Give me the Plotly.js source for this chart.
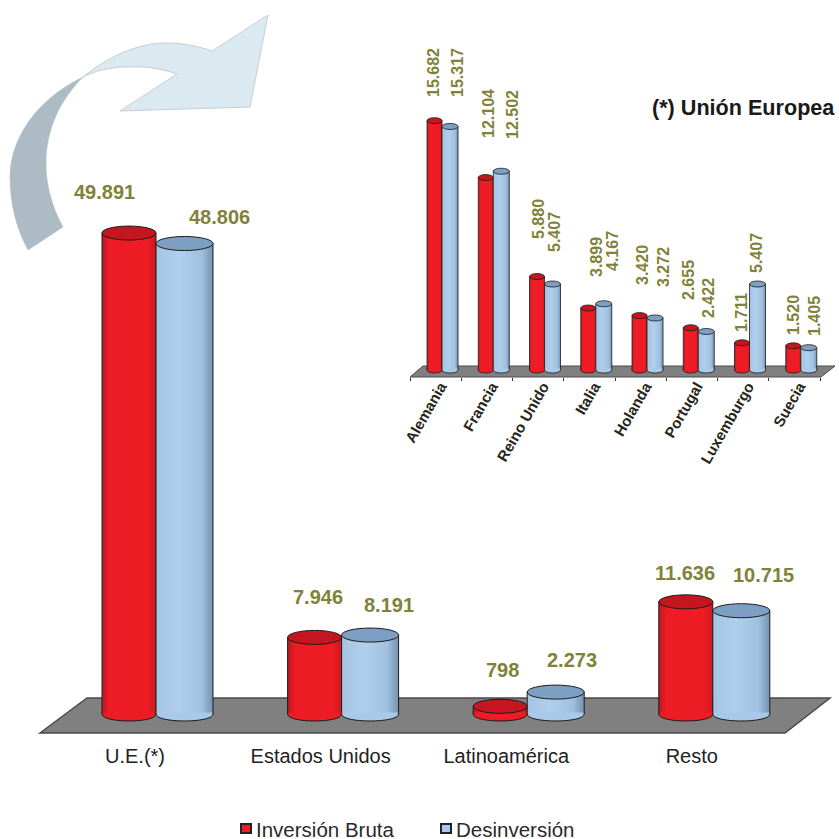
<!DOCTYPE html>
<html><head><meta charset="utf-8">
<script src="https://cdn.plot.ly/plotly-3.0.1.min.js"></script>
<style>html,body{margin:0;padding:0;background:#fff}</style></head>
<body><div id="chart" style="width:839px;height:839px"></div>
<script>
// ---- data ----
const regiones = ['U.E.(*)', 'Estados Unidos', 'Latinoamérica', 'Resto'];
const regionInversion = [49891, 7946, 798, 11636];
const regionDesinversion = [48806, 8191, 2273, 10715];
const paises = ['Alemania', 'Francia', 'Reino Unido', 'Italia', 'Holanda', 'Portugal', 'Luxemburgo', 'Suecia'];
const paisInversion = [15682, 12104, 5880, 3899, 3420, 2655, 1711, 1520];
const paisDesinversion = [15317, 12502, 5407, 4167, 3272, 2422, 5407, 1405];
const serieA = 'Inversión Bruta', serieB = 'Desinversión';

// ---- styling ----
const RED = '#ee1c25', BLUE = '#a8c9e8', RED_TOP = '#c5161f', BLUE_TOP = '#7d9fc3';
const EDGE = '#1c1c1c', OLIVE = '#7f8238';
const FONT = 'Liberation Sans, Arial, sans-serif';
const W = 839, H = 839;
const px = x => x / W, py = y => 1 - y / H;

// pixel geometry of the two plots
const main = {l: 42.2, r: 784.6, top: 40, bottom: 733, base: 714, scale: 0.00964, step: 185.6,
  offA: -33 / 185.6, wA: 54 / 185.6, offB: 21 / 185.6, wB: 57 / 185.6, ry: 7, lw: 1};
const inset = {l: 410, r: 820, top: 40, bottom: 377, base: 370, scale: 0.0159, step: 51.25,
  offA: -8.6 / 51.25, wA: 15 / 51.25, offB: 6.4 / 51.25, wB: 16 / 51.25, ry: 3, lw: 0.8};
const yRange = g => [(g.base - g.bottom) / g.scale, (g.base - g.top) / g.scale];

const fmt = v => String(v).replace(/\B(?=(\d{3})+$)/g, '.');

function barTrace(x, y, name, color, off, w, xa, ya, lw) {
  return {type: 'bar', x, y, name, xaxis: xa, yaxis: ya, offset: off, width: w, showlegend: false,
    marker: {color, line: {color: EDGE, width: lw}}, hoverinfo: 'x+y'};
}
const data = [
  barTrace(regiones, regionInversion, serieA, RED, main.offA, main.wA, 'x', 'y', main.lw),
  barTrace(regiones, regionDesinversion, serieB, BLUE, main.offB, main.wB, 'x', 'y', main.lw),
  barTrace(paises, paisInversion, serieA, RED, inset.offA, inset.wA, 'x2', 'y2', inset.lw),
  barTrace(paises, paisDesinversion, serieB, BLUE, inset.offB, inset.wB, 'x2', 'y2', inset.lw)
];

// ---- decoration in pixel coordinates ----
const pathPx = segs => segs.map(s => typeof s === 'string' ? s : px(s[0]) + ',' + py(s[1])).join(' ');
const shapes = [];
const paperPath = (segs, fill, line, lw) => shapes.push({type: 'path', xref: 'paper', yref: 'paper', layer: 'below',
  path: pathPx(segs), fillcolor: fill, line: {color: line, width: lw}});

// curved arrow
paperPath(['M', [83,77], 'C', [35,100], [10,140], [10,177], 'C', [10,205], [17,230], [28,250], 'L', [63,227],
  'C', [52,207], [46,185], [46,163], 'C', [46,130], [60,100], [83,77], 'Z'], '#adbcc4', '#adbcc4', 0.5);
paperPath(['M', [83,77], 'C', [110,55], [140,43], [165,43], 'C', [183,43], [198,46], [212,51], 'L', [268,15], 'L', [250,107],
  'L', [120,111], 'L', [177,74], 'C', [160,68], [143,66], [127,67], 'C', [110,67], [95,71], [83,77], 'Z'], '#dbe9f1', '#c5cfd4', 1);
// floors
paperPath(['M', [40,733], 'L', [87,698], 'L', [830,698], 'L', [785,733], 'Z'], '#808080', '#4a4a4a', 1.5);
paperPath(['M', [410,377], 'L', [423,366], 'L', [835,366], 'L', [821,377], 'Z'], '#808080', '#4a4a4a', 1);

// cylinder caps, computed from the values through the axes
function caps(values, g, off, w, topColor, fill, xa, ya) {
  const ry = g.ry / g.scale;
  values.forEach((v, i) => {
    const x0 = i + off, x1 = i + off + w, k = ry * 4 / 3, up = 1.5 / g.scale;
    shapes.push({type: 'path', xref: xa, yref: ya, layer: 'above', fillcolor: fill, line: {color: EDGE, width: g.lw},
      path: `M ${x0},${up} L ${x0},0 C ${x0},${-k} ${x1},${-k} ${x1},0 L ${x1},${up}`});
    shapes.push({type: 'circle', xref: xa, yref: ya, layer: 'above', x0, x1, y0: v - ry, y1: v + ry,
      fillcolor: topColor, line: {color: EDGE, width: g.lw}});
  });
}
caps(regionInversion, main, main.offA, main.wA, RED_TOP, RED, 'x', 'y');
caps(regionDesinversion, main, main.offB, main.wB, BLUE_TOP, BLUE, 'x', 'y');
caps(paisInversion, inset, inset.offA, inset.wA, RED_TOP, RED, 'x2', 'y2');
caps(paisDesinversion, inset, inset.offB, inset.wB, BLUE_TOP, BLUE, 'x2', 'y2');

// ---- value labels (label centres in pixels, separate from the values) ----
const regionLabelA = [[104,192],[318,597],[502,670],[685,573]];
const regionLabelB = [[219,217],[389,605],[572,660],[763,575]];
const paisLabelA = [[433,73],[488,114],[538,219],[596,257],[642,265],[689,280],[741,313],[793,315]];
const paisLabelB = [[457,73],[512,115],[554,232],[612,251],[663,267],[709,298],[756,253],[815,316]];
const annotations = [];
const label = (v, p, size, angle) => annotations.push({text: fmt(v), xref: 'paper', yref: 'paper', x: px(p[0]), y: py(p[1]),
  xanchor: 'center', yanchor: 'middle', showarrow: false, textangle: angle,
  font: {family: FONT, size, color: OLIVE, weight: 'bold'}});
regionInversion.forEach((v, i) => label(v, regionLabelA[i], 20, 0));
regionDesinversion.forEach((v, i) => label(v, regionLabelB[i], 20, 0));
paisInversion.forEach((v, i) => label(v, paisLabelA[i], 16, -90));
paisDesinversion.forEach((v, i) => label(v, paisLabelB[i], 16, -90));
annotations.push({text: '<b>(*) Unión Europea</b>', xref: 'paper', yref: 'paper', x: px(743.5), y: py(107),
  xanchor: 'center', yanchor: 'middle', showarrow: false, font: {family: FONT, size: 21.6, color: '#1a1a1a'}});

// legend keys and texts
const legendItems = [[serieA, RED, 240, 256], [serieB, BLUE, 440, 456]];
legendItems.forEach(([name, color, keyX, textX]) => {
  shapes.push({type: 'rect', xref: 'paper', yref: 'paper', layer: 'above', x0: px(keyX + 1), x1: px(keyX + 11), y0: py(833), y1: py(824),
    fillcolor: color, line: {color: '#222', width: 2}});
  annotations.push({text: name, xref: 'paper', yref: 'paper', x: px(textX), y: py(829.5), xanchor: 'left', yanchor: 'middle',
    showarrow: false, font: {family: FONT, size: 20.5, color: '#2a2a2a'}, xshift: -2});
});

const layout = {
  width: W, height: H, margin: {l: 0, r: 0, t: 0, b: 0}, autosize: false,
  paper_bgcolor: '#fff', plot_bgcolor: 'rgba(0,0,0,0)', barmode: 'overlay', showlegend: false,
  font: {family: FONT},
  xaxis: {domain: [px(main.l), px(main.r)], range: [-0.5, 3.5], type: 'category', anchor: 'y', showgrid: false, zeroline: false, showline: false,
    ticks: 'outside', ticklen: 5, tickcolor: 'rgba(0,0,0,0)', tickfont: {family: FONT, size: 20, color: '#222'}, tickangle: 0, fixedrange: true},
  yaxis: {domain: [py(main.bottom), py(main.top)], range: yRange(main), visible: false, fixedrange: true},
  xaxis2: {domain: [px(inset.l), px(inset.r)], range: [-0.5, 7.5], type: 'category', anchor: 'y2', showgrid: false, zeroline: false, showline: false,
    ticks: 'outside', tickson: 'boundaries', ticklen: 3, tickwidth: 1, tickcolor: '#333', tickangle: -60, ticklabelshift: 5, ticklabelstandoff: -3,
    tickfont: {family: FONT, size: 15, color: '#26261a', weight: 'bold'}, fixedrange: true},
  yaxis2: {domain: [py(inset.bottom), py(inset.top)], range: yRange(inset), visible: false, fixedrange: true},
  shapes, annotations
};

Plotly.newPlot('chart', data, layout, {displayModeBar: false, staticPlot: true}).then(gd => {
  // horizontal shading of the cylinders
  const svg = gd.querySelector('svg.main-svg');
  const defs = document.createElementNS('http://www.w3.org/2000/svg', 'defs');
  defs.innerHTML =
    '<linearGradient id="cylRed" x1="0" x2="1" y1="0" y2="0"><stop offset="0" stop-color="#bd1820"/><stop offset=".14" stop-color="#ee1c25"/><stop offset=".82" stop-color="#ee1c25"/><stop offset="1" stop-color="#cf1820"/></linearGradient>' +
    '<linearGradient id="cylBlue" x1="0" x2="1" y1="0" y2="0"><stop offset="0" stop-color="#a4c4e2"/><stop offset=".4" stop-color="#b0cfec"/><stop offset=".8" stop-color="#a0c0df"/><stop offset="1" stop-color="#7492b0"/></linearGradient>';
  svg.insertBefore(defs, svg.firstChild);
  gd.querySelectorAll('.barlayer .point path').forEach(p => {
    const f = p.style.fill;
    if (f === 'rgb(238, 28, 37)') p.style.fill = 'url(#cylRed)';
    else if (f === 'rgb(168, 201, 232)') p.style.fill = 'url(#cylBlue)';
  });
});
</script></body></html>
